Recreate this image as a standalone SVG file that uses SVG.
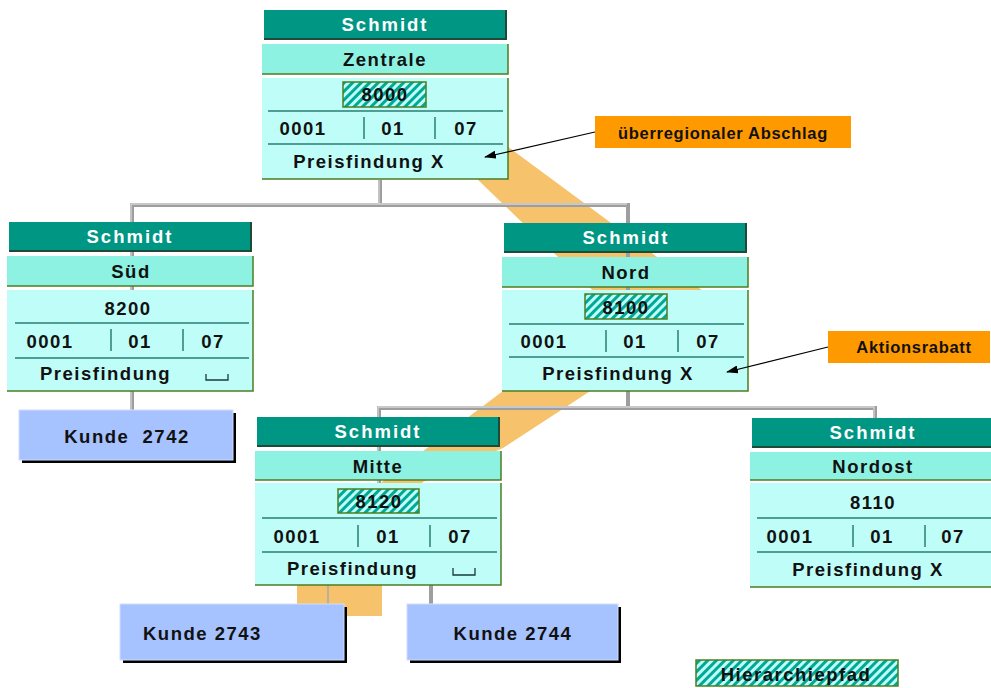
<svg xmlns="http://www.w3.org/2000/svg" width="991" height="688" viewBox="0 0 991 688">
<defs>
  <pattern id="hatch" patternUnits="userSpaceOnUse" width="6" height="6" patternTransform="rotate(45)">
    <rect width="6" height="6" fill="#BFFDF8"/>
    <rect width="3" height="6" fill="#00A898"/>
  </pattern>
  <marker id="arr" markerWidth="12" markerHeight="8" refX="11" refY="4" orient="auto" markerUnits="userSpaceOnUse">
    <path d="M0,0 L12,4 L0,8 Z" fill="#000"/>
  </marker>
  <style>
    .t { font-family: "Liberation Sans", Arial, Helvetica, sans-serif; font-weight: bold; font-size: 18.5px; letter-spacing: 1.5px; fill: #111; }
    .hd { fill: #fff; letter-spacing: 2px; }
    .c { text-anchor: middle; }
    .co { font-size: 16.5px; letter-spacing: 0.7px; }
    .hdr { fill: #009684; }
    .hdrsh { fill: none; stroke: #1E4A36; stroke-width: 2; }
    .row { fill: #8EF2E3; }
    .body { fill: #BFFDF8; }
    .edge { fill: none; stroke: #4E7D21; stroke-width: 1.5; }
    .hatch { fill: url(#hatch); stroke: #4E7D21; stroke-width: 1.5; }
    .sep { fill: none; stroke: #2A7F74; stroke-width: 1.5; }
    .sp { fill: none; stroke: #1A3A3A; stroke-width: 1.3; }
    .conn { fill: none; stroke: #9E9E9E; stroke-width: 4; }
    .connhi { fill: none; stroke: #D6D6D6; stroke-width: 1.3; }
    .thin { fill: none; stroke: #A8A8A8; stroke-width: 1.5; }
    .kunde { fill: #A6C2FF; stroke: #D2DEFF; stroke-width: 1; }
    .shadow { fill: #000; }
    .callout { fill: #FF9900; }
    .pointer { fill: none; stroke: #000; stroke-width: 1.2; marker-end: url(#arr); }
  </style>
</defs>

<rect width="991" height="688" fill="#fff"/>

<g id="hierarchy-path">
  <polygon points="416,120 472,120 722,305 503,448 423,482 382,540 382,616 297,616 297,546 612,309" fill="#F6C26B"/>
</g>

<g id="connectors">
  <path class="conn" d="M380,180 V205 M132,410 V205 H628 V290 M379,575 V408 H875 V420 M628,290 V408 M328,575 H431 V604"/>
  <path class="connhi" d="M379,180 V204 M131,410 V204 H627 M378,575 V407 H874 V420"/>
  <path class="thin" d="M328,575 V604"/>
</g>

<g id="node-zentrale" transform="translate(262,10)">
  <rect class="hdr" x="2" y="0" width="242" height="29"/>
  <path class="hdrsh" d="M2,29 H244 V0"/>
  <rect class="row" x="0" y="34" width="246" height="30"/>
  <path class="edge" d="M0,64 H246 V34"/>
  <rect class="body" x="0" y="68" width="246" height="101"/>
  <path class="edge" d="M0,169 H246 V68"/>
  <rect class="hatch" x="81" y="72" width="83" height="25"/>
  <path class="sep" d="M6,101 H241 M6,134 H241 M102,107 V129 M173,107 V129"/>
  <text class="t hd c" x="123" y="21">Schmidt</text>
  <text class="t c" x="123" y="55.5">Zentrale</text>
  <text class="t c" x="123" y="91">8000</text>
  <text class="t c" x="41" y="125">0001</text>
  <text class="t c" x="131" y="125">01</text>
  <text class="t c" x="204" y="125">07</text>
  <text class="t c" x="107" y="158">Preisfindung X</text>
</g>

<g id="node-sued" transform="translate(7,222)">
  <rect class="hdr" x="2" y="0" width="242" height="29"/>
  <path class="hdrsh" d="M2,29 H244 V0"/>
  <rect class="row" x="0" y="34" width="246" height="30"/>
  <path class="edge" d="M0,64 H246 V34"/>
  <rect class="body" x="0" y="68" width="246" height="101"/>
  <path class="edge" d="M0,169 H246 V68"/>
  <path class="sep" d="M8,101 H242 M8,136 H242 M104,107 V129 M176,107 V129"/>
  <text class="t hd c" x="123" y="21">Schmidt</text>
  <text class="t c" x="124" y="55.5">Süd</text>
  <text class="t c" x="121" y="92.5">8200</text>
  <text class="t c" x="43" y="126">0001</text>
  <text class="t c" x="133" y="126">01</text>
  <text class="t c" x="206" y="126">07</text>
  <text class="t" x="33" y="158">Preisfindung</text>
  <path class="sp" d="M199,152 V158 H221 V152"/>
</g>

<g id="node-nord" transform="translate(502,223)">
  <rect class="hdr" x="2" y="0" width="242" height="29"/>
  <path class="hdrsh" d="M2,29 H244 V0"/>
  <rect class="row" x="0" y="34" width="246" height="30"/>
  <path class="edge" d="M0,64 H246 V34"/>
  <rect class="body" x="0" y="67" width="246" height="101"/>
  <path class="edge" d="M0,168 H246 V67"/>
  <rect class="hatch" x="83" y="71" width="82" height="25"/>
  <path class="sep" d="M7,101 H242 M7,134 H242 M104,107 V129 M176,107 V129"/>
  <text class="t hd c" x="124" y="21">Schmidt</text>
  <text class="t c" x="124" y="55.5">Nord</text>
  <text class="t c" x="124" y="90.5">8100</text>
  <text class="t c" x="42" y="125">0001</text>
  <text class="t c" x="133" y="125">01</text>
  <text class="t c" x="206" y="125">07</text>
  <text class="t c" x="116" y="157">Preisfindung X</text>
</g>

<g id="node-mitte" transform="translate(255,417)">
  <rect class="hdr" x="2" y="0" width="242" height="29"/>
  <path class="hdrsh" d="M2,29 H244 V0"/>
  <rect class="row" x="0" y="34" width="246" height="29"/>
  <path class="edge" d="M0,63 H246 V34"/>
  <rect class="body" x="0" y="66" width="246" height="102"/>
  <path class="edge" d="M0,168 H246 V66"/>
  <rect class="hatch" x="83" y="72" width="81" height="24"/>
  <path class="sep" d="M7,101 H242 M7,135 H242 M103,108 V130 M175,108 V130"/>
  <text class="t hd c" x="123" y="21">Schmidt</text>
  <text class="t c" x="123" y="55.5">Mitte</text>
  <text class="t c" x="124" y="90.5">8120</text>
  <text class="t c" x="42" y="126">0001</text>
  <text class="t c" x="133" y="126">01</text>
  <text class="t c" x="205" y="126">07</text>
  <text class="t" x="32" y="158">Preisfindung</text>
  <path class="sp" d="M198,151 V158 H220 V151"/>
</g>

<g id="node-nordost" transform="translate(750,418)">
  <rect class="hdr" x="2" y="0" width="242" height="29"/>
  <path class="hdrsh" d="M2,29 H244 V0"/>
  <rect class="row" x="0" y="34" width="246" height="28"/>
  <path class="edge" d="M0,62 H246 V34"/>
  <rect class="body" x="0" y="65" width="246" height="104"/>
  <path class="edge" d="M0,169 H246 V65"/>
  <path class="sep" d="M7,100 H246 M7,134 H246 M103,107 V129 M175,107 V129"/>
  <text class="t hd c" x="123" y="21">Schmidt</text>
  <text class="t c" x="123" y="55">Nordost</text>
  <text class="t c" x="123" y="91">8110</text>
  <text class="t c" x="40" y="125">0001</text>
  <text class="t c" x="132" y="125">01</text>
  <text class="t c" x="203" y="125">07</text>
  <text class="t c" x="118" y="158">Preisfindung X</text>
</g>

<g id="kunde-2742">
  <rect class="shadow" x="22" y="413" width="214" height="50"/>
  <rect class="kunde" x="19" y="410" width="214" height="50"/>
  <text class="t c" x="127" y="443" xml:space="preserve">Kunde  2742</text>
</g>

<g id="kunde-2743">
  <rect class="shadow" x="123" y="607" width="224" height="56"/>
  <rect class="kunde" x="120" y="604" width="224" height="56"/>
  <text class="t" x="143" y="640">Kunde 2743</text>
</g>

<g id="kunde-2744">
  <rect class="shadow" x="410" y="607" width="211" height="56"/>
  <rect class="kunde" x="407" y="604" width="211" height="56"/>
  <text class="t c" x="513" y="640">Kunde 2744</text>
</g>

<g id="callout-abschlag">
  <rect class="callout" x="595" y="116" width="256" height="32"/>
  <text class="t co c" x="723" y="138.5">überregionaler Abschlag</text>
</g>

<g id="callout-aktionsrabatt">
  <rect class="callout" x="828" y="331" width="162" height="32"/>
  <text class="t co c" x="914" y="353">Aktionsrabatt</text>
</g>

<g id="callout-pointers">
  <path class="pointer" d="M595,132 L485,157"/>
  <path class="pointer" d="M828,347 L727,372"/>
</g>

<g id="legend">
  <rect class="hatch" x="696" y="660" width="202" height="26" stroke-width="2"/>
  <text class="t c" x="796" y="680.5">Hierarchiepfad</text>
</g>
</svg>
